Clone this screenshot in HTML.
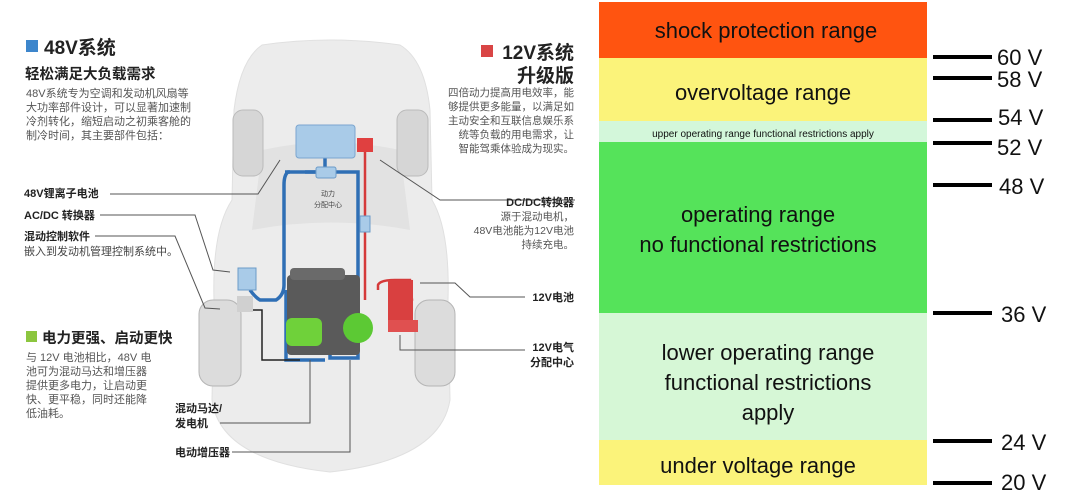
<!DOCTYPE html>
<html><head><meta charset="utf-8"><style>
html,body{margin:0;padding:0;background:#fff;}
svg{display:block}
text{font-family:"Liberation Sans","Noto Sans CJK SC",sans-serif;}
</style></head><body>
<svg width="1080" height="494" viewBox="0 0 1080 494" xmlns="http://www.w3.org/2000/svg">
<rect width="1080" height="494" fill="#fff"/>
<!-- car body -->
<path d="M262 45 Q330 35 400 45 Q425 60 430 110 L432 200 Q450 230 448 300 L450 400 Q440 460 330 472 Q220 460 212 400 L214 300 Q212 230 232 200 L234 110 Q240 60 262 45 Z" fill="#ececec" stroke="#e0e0e0"/>
<path d="M262 150 Q330 135 400 150 L410 230 Q330 215 252 230 Z" fill="#e2e2e2"/>
<!-- wheels -->
<rect x="233" y="110" width="30" height="66" rx="10" fill="#d6d6d6" stroke="#bbb"/>
<rect x="397" y="110" width="31" height="66" rx="10" fill="#d6d6d6" stroke="#bbb"/>
<rect x="199" y="300" width="42" height="86" rx="14" fill="#dcdcdc" stroke="#b5b5b5"/>
<rect x="415" y="300" width="40" height="86" rx="14" fill="#dcdcdc" stroke="#b5b5b5"/>
<!-- blue pipes -->
<g fill="none" stroke="#2f6fb5" stroke-width="3.5">
<path d="M325 150 L325 172 M305 172 L358 172 L358 228 L358 358 L330 358 L330 340 M290 172 L288 172 Q284 175 284 185 L284 285 Q284 295 276 300 L260 300 Q255 297 250 290 M286 290 L286 360 L325 360"/>
<path d="M320 172 L285 172"/>
</g>
<path d="M250 310 L262 310 L262 360 L300 360" fill="none" stroke="#222" stroke-width="1.5"/>
<!-- red wire -->
<path d="M365 150 L365 300 M378 290 L378 285 Q380 280 395 280 L410 280 L412 300 L400 310 L400 325" fill="none" stroke="#d53a3a" stroke-width="2.5"/>
<!-- components -->
<rect x="296" y="125" width="59" height="33" rx="3" fill="#a9cbe8" stroke="#7ba5cf"/>
<rect x="357" y="138" width="16" height="14" fill="#e04040"/>
<rect x="316" y="167" width="20" height="11" rx="2" fill="#a9cbe8" stroke="#6c9bc8"/>
<rect x="360" y="216" width="10" height="16" fill="#a9cbe8" stroke="#6c9bc8"/>
<rect x="238" y="268" width="18" height="22" fill="#a9cbe8" stroke="#6c9bc8"/>
<rect x="237" y="296" width="16" height="16" fill="#d0d0d0"/>
<rect x="287" y="275" width="73" height="80" rx="4" fill="#5a5a5a"/>
<rect x="290" y="268" width="55" height="12" rx="4" fill="#6a6a6a"/>
<rect x="286" y="318" width="36" height="28" rx="6" fill="#6fd13a"/>
<circle cx="358" cy="328" r="15" fill="#5cc934"/>
<rect x="388" y="280" width="25" height="40" fill="#d94040"/>
<rect x="388" y="320" width="30" height="12" fill="#e05050"/>
<!-- labels left -->
<rect x="26" y="40" width="12" height="12" fill="#3d86cc"/>
<text x="44" y="54" font-size="19" font-weight="bold" fill="#222">48V系统</text>
<text x="25" y="79" font-size="14.5" font-weight="bold" fill="#222">轻松满足大负载需求</text>
<g font-size="11" fill="#555">
<text x="26" y="97">48V系统专为空调和发动机风扇等</text>
<text x="26" y="111">大功率部件设计，可以显著加速制</text>
<text x="26" y="125">冷剂转化，缩短启动之初乘客舱的</text>
<text x="26" y="139">制冷时间，其主要部件包括：</text>
</g>
<g font-size="11" font-weight="bold" fill="#222">
<text x="24" y="197">48V锂离子电池</text>
<text x="24" y="219">AC/DC 转换器</text>
<text x="24" y="240">混动控制软件</text>
</g>
<text x="24" y="255" font-size="11" fill="#444">嵌入到发动机管理控制系统中。</text>
<g fill="none" stroke="#555" stroke-width="1">
<path d="M110 194 L258 194 L280 160"/>
<path d="M100 215 L195 215 L213 270 L230 272"/>
<path d="M95 236 L175 236 L205 308 L220 309"/>
<path d="M220 423 L310 423 L310 360"/>
<path d="M232 452 L350 452 L350 360"/>
<path d="M575 200 L440 200 L380 160"/>
<path d="M525 297 L470 297 L455 283 L420 283"/>
<path d="M525 350 L400 350 L400 335"/>
</g>
<rect x="26" y="331" width="11" height="11" fill="#8cc63f"/>
<text x="42" y="343" font-size="14.5" font-weight="bold" fill="#222">电力更强、启动更快</text>
<g font-size="11" fill="#555">
<text x="26" y="361">与 12V 电池相比，48V 电</text>
<text x="26" y="375">池可为混动马达和增压器</text>
<text x="26" y="389">提供更多电力，让启动更</text>
<text x="26" y="403">快、更平稳，同时还能降</text>
<text x="26" y="417">低油耗。</text>
</g>
<g font-size="11" font-weight="bold" fill="#222">
<text x="175" y="412">混动马达/</text>
<text x="175" y="427">发电机</text>
<text x="175" y="456">电动增压器</text>
</g>
<text x="328" y="196" font-size="7" fill="#444" text-anchor="middle">动力</text>
<text x="328" y="207" font-size="7" fill="#444" text-anchor="middle">分配中心</text>
<!-- right labels -->
<rect x="481" y="45" width="12" height="12" fill="#d94545"/>
<g text-anchor="end" fill="#222">
<text x="574" y="59" font-size="19" font-weight="bold">12V系统</text>
<text x="574" y="82" font-size="19" font-weight="bold">升级版</text>
<g font-size="10.5" fill="#555">
<text x="574" y="96">四倍动力提高用电效率，能</text>
<text x="574" y="110">够提供更多能量，以满足如</text>
<text x="574" y="124">主动安全和互联信息娱乐系</text>
<text x="574" y="138">统等负载的用电需求，让</text>
<text x="574" y="152">智能驾乘体验成为现实。</text>
<text x="574" y="220">源于混动电机，</text>
<text x="574" y="234">48V电池能为12V电池</text>
<text x="574" y="248">持续充电。</text>
</g>
<g font-size="11" font-weight="bold">
<text x="574" y="206">DC/DC转换器</text>
<text x="574" y="301">12V电池</text>
<text x="574" y="351">12V电气</text>
<text x="574" y="366">分配中心</text>
</g>
</g>
<!-- chart -->
<rect x="599" y="2" width="328" height="56" fill="#ff5410"/>
<rect x="599" y="58" width="328" height="63" fill="#fbf37a"/>
<rect x="599" y="121" width="328" height="21" fill="#d3f7da"/>
<rect x="599" y="142" width="328" height="171" fill="#55e35a"/>
<rect x="599" y="313" width="328" height="127" fill="#d6f7d6"/>
<rect x="599" y="440" width="328" height="45" fill="#fbf37a"/>
<g text-anchor="middle" fill="#111">
<text x="766" y="38" font-size="22">shock protection range</text>
<text x="763" y="100" font-size="22">overvoltage range</text>
<text x="763" y="137" font-size="10">upper operating range functional restrictions apply</text>
<text x="758" y="222" font-size="22">operating range</text>
<text x="758" y="252" font-size="22">no functional restrictions</text>
<text x="768" y="360" font-size="22">lower operating range</text>
<text x="768" y="390" font-size="22">functional restrictions</text>
<text x="768" y="420" font-size="22">apply</text>
<text x="758" y="473" font-size="22">under voltage range</text>
</g>
<g stroke="#000" stroke-width="4">
<line x1="933" y1="57" x2="992" y2="57"/>
<line x1="933" y1="78" x2="992" y2="78"/>
<line x1="933" y1="120" x2="992" y2="120"/>
<line x1="933" y1="143" x2="992" y2="143"/>
<line x1="933" y1="185" x2="992" y2="185"/>
<line x1="933" y1="313" x2="992" y2="313"/>
<line x1="933" y1="441" x2="992" y2="441"/>
<line x1="933" y1="483" x2="992" y2="483"/>
</g>
<g font-size="22" fill="#111">
<text x="997" y="65">60 V</text>
<text x="997" y="87">58 V</text>
<text x="998" y="125">54 V</text>
<text x="997" y="155">52 V</text>
<text x="999" y="194">48 V</text>
<text x="1001" y="322">36 V</text>
<text x="1001" y="450">24 V</text>
<text x="1001" y="490">20 V</text>
</g>
</svg>
</body></html>
